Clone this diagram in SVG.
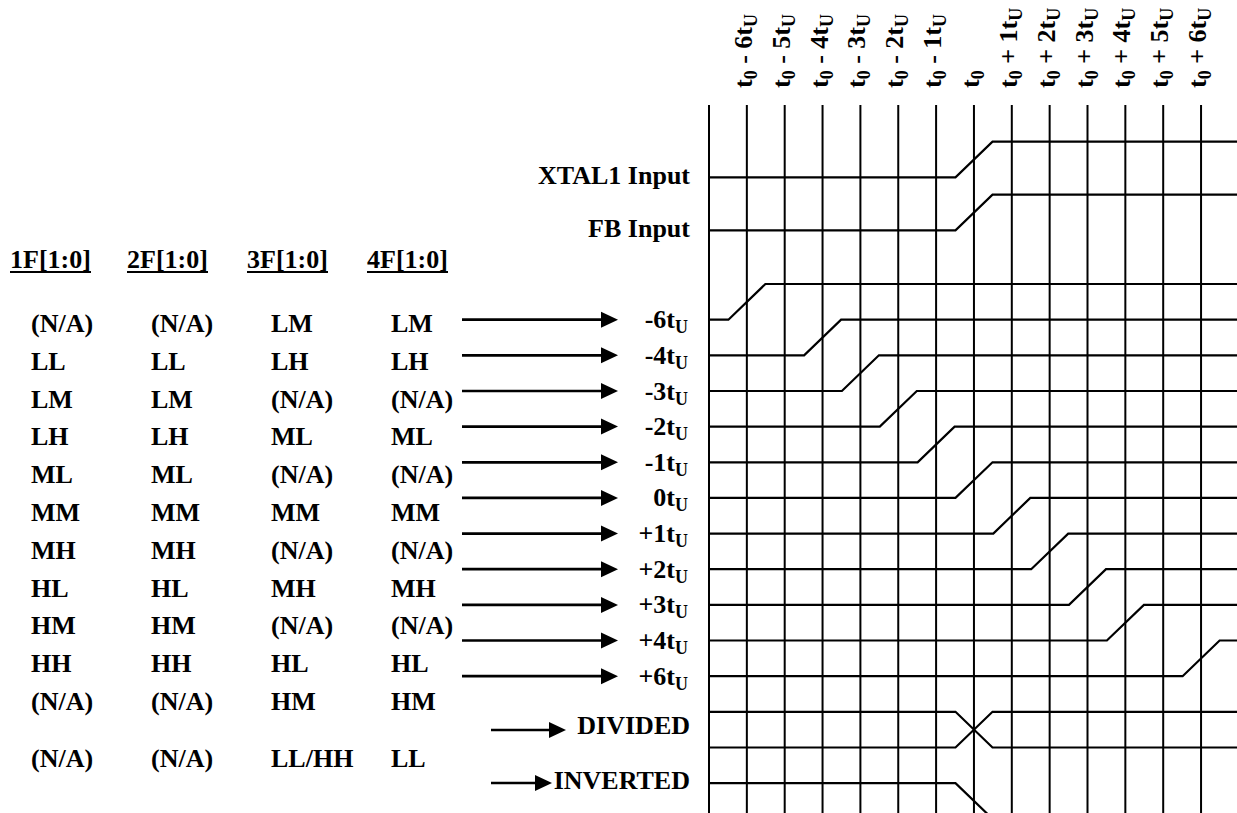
<svg xmlns="http://www.w3.org/2000/svg" width="1237" height="813" viewBox="0 0 1237 813">
<style>
.t{font-family:"Liberation Serif","Times New Roman",serif;font-weight:bold;font-size:26px;fill:#000}
.sub{font-size:18px}
.ul{stroke:#000;stroke-width:2;fill:none}
.grid{stroke:#000;stroke-width:2;fill:none}
.sig{stroke:#000;stroke-width:2.2;fill:none;stroke-linejoin:miter}
.arr{stroke:#000;stroke-width:2.7;fill:none;marker-end:url(#ah)}
</style>
<defs>
<marker id="ah" markerUnits="userSpaceOnUse" markerWidth="18" markerHeight="18" refX="7" refY="8" orient="auto" viewBox="0 0 18 16">
<path d="M0,0 L17,8 L0,16 Z" fill="#000"/>
</marker>
</defs>
<rect width="1237" height="813" fill="#fff"/>

<g id="time-axis-labels" class="t">
<text transform="translate(752,88) rotate(-90)">t<tspan class="sub" dy="5">0</tspan><tspan dy="-5"> - 6t</tspan><tspan class="sub" dy="5">U</tspan></text>
<text transform="translate(789.7,88) rotate(-90)">t<tspan class="sub" dy="5">0</tspan><tspan dy="-5"> - 5t</tspan><tspan class="sub" dy="5">U</tspan></text>
<text transform="translate(827.6,88) rotate(-90)">t<tspan class="sub" dy="5">0</tspan><tspan dy="-5"> - 4t</tspan><tspan class="sub" dy="5">U</tspan></text>
<text transform="translate(865.4,88) rotate(-90)">t<tspan class="sub" dy="5">0</tspan><tspan dy="-5"> - 3t</tspan><tspan class="sub" dy="5">U</tspan></text>
<text transform="translate(903.3,88) rotate(-90)">t<tspan class="sub" dy="5">0</tspan><tspan dy="-5"> - 2t</tspan><tspan class="sub" dy="5">U</tspan></text>
<text transform="translate(941.1,88) rotate(-90)">t<tspan class="sub" dy="5">0</tspan><tspan dy="-5"> - 1t</tspan><tspan class="sub" dy="5">U</tspan></text>
<text transform="translate(979,88) rotate(-90)">t<tspan class="sub" dy="5">0</tspan></text>
<text transform="translate(1016.8,88) rotate(-90)">t<tspan class="sub" dy="5">0</tspan><tspan dy="-5"> + 1t</tspan><tspan class="sub" dy="5">U</tspan></text>
<text transform="translate(1054.7,88) rotate(-90)">t<tspan class="sub" dy="5">0</tspan><tspan dy="-5"> + 2t</tspan><tspan class="sub" dy="5">U</tspan></text>
<text transform="translate(1092.5,88) rotate(-90)">t<tspan class="sub" dy="5">0</tspan><tspan dy="-5"> + 3t</tspan><tspan class="sub" dy="5">U</tspan></text>
<text transform="translate(1130.4,88) rotate(-90)">t<tspan class="sub" dy="5">0</tspan><tspan dy="-5"> + 4t</tspan><tspan class="sub" dy="5">U</tspan></text>
<text transform="translate(1168.2,88) rotate(-90)">t<tspan class="sub" dy="5">0</tspan><tspan dy="-5"> + 5t</tspan><tspan class="sub" dy="5">U</tspan></text>
<text transform="translate(1206,88) rotate(-90)">t<tspan class="sub" dy="5">0</tspan><tspan dy="-5"> + 6t</tspan><tspan class="sub" dy="5">U</tspan></text>
</g>

<g id="grid" class="grid">
<path d="M709,105V813 M746.85,105V813 M784.7,105V813 M822.55,105V813 M860.4,105V813 M898.25,105V813 M936.1,105V813 M973.95,105V813 M1011.8,105V813 M1049.65,105V813 M1087.5,105V813 M1125.35,105V813 M1163.2,105V813 M1201.05,105V813"/>
</g>

<g id="table-header">
<g class="t">
<text x="10" y="268">1F[1:0]</text>
<text x="127" y="268">2F[1:0]</text>
<text x="247" y="268">3F[1:0]</text>
<text x="367" y="268">4F[1:0]</text>
</g>
<path class="ul" d="M10,272H91 M127,272H208 M247,272H328 M367,272H448"/>
</g>

<g id="table-rows" class="t">
<g id="row-m6"><text x="31" y="332">(N/A)</text><text x="151" y="332">(N/A)</text><text x="271" y="332">LM</text><text x="391" y="332">LM</text></g>
<g id="row-m4"><text x="31" y="369.8">LL</text><text x="151" y="369.8">LL</text><text x="271" y="369.8">LH</text><text x="391" y="369.8">LH</text></g>
<g id="row-m3"><text x="31" y="407.6">LM</text><text x="151" y="407.6">LM</text><text x="271" y="407.6">(N/A)</text><text x="391" y="407.6">(N/A)</text></g>
<g id="row-m2"><text x="31" y="445.4">LH</text><text x="151" y="445.4">LH</text><text x="271" y="445.4">ML</text><text x="391" y="445.4">ML</text></g>
<g id="row-m1"><text x="31" y="483.2">ML</text><text x="151" y="483.2">ML</text><text x="271" y="483.2">(N/A)</text><text x="391" y="483.2">(N/A)</text></g>
<g id="row-0"><text x="31" y="521">MM</text><text x="151" y="521">MM</text><text x="271" y="521">MM</text><text x="391" y="521">MM</text></g>
<g id="row-p1"><text x="31" y="558.8">MH</text><text x="151" y="558.8">MH</text><text x="271" y="558.8">(N/A)</text><text x="391" y="558.8">(N/A)</text></g>
<g id="row-p2"><text x="31" y="596.6">HL</text><text x="151" y="596.6">HL</text><text x="271" y="596.6">MH</text><text x="391" y="596.6">MH</text></g>
<g id="row-p3"><text x="31" y="634.4">HM</text><text x="151" y="634.4">HM</text><text x="271" y="634.4">(N/A)</text><text x="391" y="634.4">(N/A)</text></g>
<g id="row-p4"><text x="31" y="672.2">HH</text><text x="151" y="672.2">HH</text><text x="271" y="672.2">HL</text><text x="391" y="672.2">HL</text></g>
<g id="row-p6"><text x="31" y="710">(N/A)</text><text x="151" y="710">(N/A)</text><text x="271" y="710">HM</text><text x="391" y="710">HM</text></g>
<g id="row-inv"><text x="31" y="767">(N/A)</text><text x="151" y="767">(N/A)</text><text x="271" y="767">LL/HH</text><text x="391" y="767">LL</text></g>
</g>

<g id="signal-labels" class="t" text-anchor="end">
<text x="690" y="184">XTAL1 Input</text>
<text x="690" y="237">FB Input</text>
<text x="688" y="328.2">-6t<tspan class="sub" dy="5">U</tspan></text>
<text x="688" y="363.8">-4t<tspan class="sub" dy="5">U</tspan></text>
<text x="688" y="399.5">-3t<tspan class="sub" dy="5">U</tspan></text>
<text x="688" y="435.1">-2t<tspan class="sub" dy="5">U</tspan></text>
<text x="688" y="470.8">-1t<tspan class="sub" dy="5">U</tspan></text>
<text x="688" y="506.4">0t<tspan class="sub" dy="5">U</tspan></text>
<text x="688" y="542.1">+1t<tspan class="sub" dy="5">U</tspan></text>
<text x="688" y="577.7">+2t<tspan class="sub" dy="5">U</tspan></text>
<text x="688" y="613.4">+3t<tspan class="sub" dy="5">U</tspan></text>
<text x="688" y="649">+4t<tspan class="sub" dy="5">U</tspan></text>
<text x="688" y="684.7">+6t<tspan class="sub" dy="5">U</tspan></text>
<text x="690" y="734">DIVIDED</text>
<text x="690" y="789">INVERTED</text>
</g>

<g id="waveforms" class="sig">
<path id="w-xtal" d="M709,177.3H955.5L992.5,141.6H1237"/>
<path id="w-fb" d="M709,230.3H955.5L992.5,194.6H1237"/>
<path id="w-m6" d="M709,319.7H728.4L765.4,284H1237"/>
<path id="w-m4" d="M709,355.3H804.1L841.1,319.7H1237"/>
<path id="w-m3" d="M709,391H841.9L878.9,355.3H1237"/>
<path id="w-m2" d="M709,426.6H879.8L916.8,391H1237"/>
<path id="w-m1" d="M709,462.3H917.6L954.6,426.6H1237"/>
<path id="w-0" d="M709,497.9H955.5L992.5,462.3H1237"/>
<path id="w-p1" d="M709,533.6H993.3L1030.3,497.9H1237"/>
<path id="w-p2" d="M709,569.2H1031.2L1068.2,533.6H1237"/>
<path id="w-p3" d="M709,604.9H1069L1106,569.2H1237"/>
<path id="w-p4" d="M709,640.5H1106.9L1143.9,604.9H1237"/>
<path id="w-p6" d="M709,676.2H1182.6L1219.6,640.5H1237"/>
<path id="w-div-a" d="M709,711.8H955.5L992.5,747.5H1237"/>
<path id="w-div-b" d="M709,747.5H955.5L992.5,711.8H1237"/>
<path id="w-inv" d="M709,783.1H955.5L992.5,818.8"/>
</g>

<g id="connectors" class="arr">
<path d="M462,319.7H608"/>
<path d="M462,355.3H608"/>
<path d="M462,391H608"/>
<path d="M462,426.6H608"/>
<path d="M462,462.3H608"/>
<path d="M462,497.9H608"/>
<path d="M462,533.6H608"/>
<path d="M462,569.2H608"/>
<path d="M462,604.9H608"/>
<path d="M462,640.5H608"/>
<path d="M462,676.2H608"/>
<path d="M491,730H556"/>
<path d="M491,783H542"/>
</g>
</svg>
